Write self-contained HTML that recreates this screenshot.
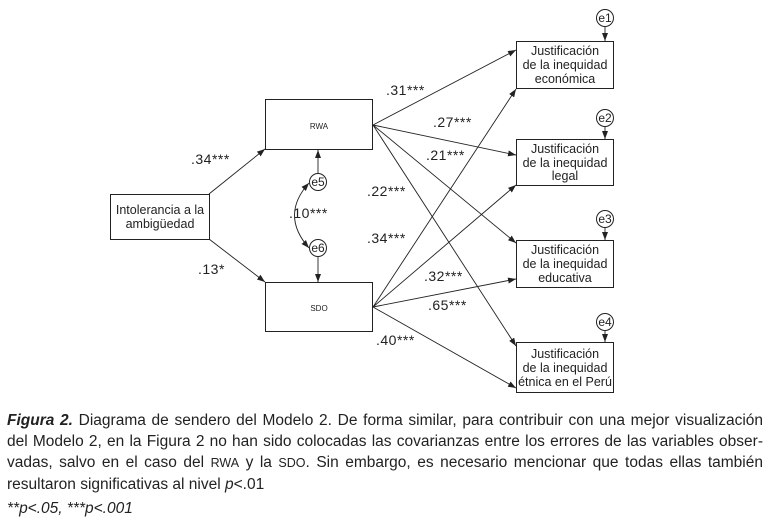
<!DOCTYPE html>
<html><head><meta charset="utf-8"><style>
body{margin:0;width:770px;height:523px;background:#fff;overflow:hidden;font-family:"Liberation Sans",sans-serif;}
svg{position:absolute;left:0;top:0}
.cap{position:absolute;left:7px;top:410px;width:756px;font-family:"Liberation Sans Narrow","Liberation Sans",sans-serif;font-size:15.5px;line-height:21px;color:#222;text-align:justify;}
.cap i{font-style:italic}
.sm{font-size:12.5px}
.p{position:absolute;left:7px;top:500px;font-family:"Liberation Sans Narrow","Liberation Sans",sans-serif;font-size:15.5px;font-style:italic;color:#222}
</style></head><body>
<svg width="770" height="400" viewBox="0 0 770 400">
<defs><marker id="a" markerWidth="8" markerHeight="6" refX="8" refY="3" orient="auto" markerUnits="userSpaceOnUse"><path d="M0,0L8,3L0,6z" fill="#222"/></marker>
<marker id="b" markerWidth="8" markerHeight="6" refX="0" refY="3" orient="auto" markerUnits="userSpaceOnUse"><path d="M8,0L0,3L8,6z" fill="#222"/></marker></defs>
<g fill="none" stroke="#222" stroke-width="1">
<rect x="110.5" y="194.5" width="99" height="45"/>
<rect x="265.5" y="99.5" width="107" height="50"/>
<rect x="265.5" y="282.5" width="107" height="49"/>
<rect x="516.5" y="41.5" width="97" height="47"/>
<rect x="516.5" y="139.5" width="97" height="46"/>
<rect x="516.5" y="240.5" width="97" height="47"/>
<rect x="516.5" y="342.5" width="97" height="50"/>
<circle cx="318" cy="182" r="8.5"/><circle cx="318" cy="248" r="8.5"/>
<circle cx="605" cy="18" r="8.5"/><circle cx="605" cy="118" r="8.5"/><circle cx="605" cy="219" r="8.5"/><circle cx="605" cy="322" r="8.5"/>
</g>
<g stroke="#222" stroke-width="0.9" marker-end="url(#a)">
<line x1="209" y1="194" x2="265" y2="149"/>
<line x1="209" y1="239" x2="265" y2="282"/>
<line x1="318" y1="173" x2="318" y2="150"/>
<line x1="318" y1="257" x2="318" y2="282"/>
<line x1="605" y1="27" x2="605" y2="41"/><line x1="605" y1="127" x2="605" y2="139"/><line x1="605" y1="228" x2="605" y2="240"/><line x1="605" y1="331" x2="605" y2="342"/>
<line x1="373" y1="125" x2="516" y2="50"/>
<line x1="373" y1="125" x2="516" y2="155"/>
<line x1="373" y1="125" x2="516" y2="243"/>
<line x1="373" y1="125" x2="516" y2="346"/>
<line x1="373" y1="307" x2="516" y2="89"/>
<line x1="373" y1="307" x2="516" y2="185"/>
<line x1="373" y1="307" x2="516" y2="279"/>
<line x1="373" y1="307" x2="516" y2="388"/>
</g>
<path d="M309,183 Q280,215 309,248" fill="none" stroke="#222" stroke-width="0.9" marker-end="url(#a)" marker-start="url(#b)"/>
<g font-family="Liberation Sans,sans-serif" fill="#222" text-anchor="middle">
<text x="160" y="214" font-size="12.5">Intolerancia a la</text>
<text x="160" y="228" font-size="12.5">ambigüedad</text>
<text x="319" y="129" font-size="8">RWA</text>
<text x="319" y="311" font-size="8">SDO</text>
<g font-size="12"><text x="318" y="186">e5</text><text x="318" y="252">e6</text>
<text x="605" y="22">e1</text><text x="605" y="122">e2</text><text x="605" y="223">e3</text><text x="605" y="326">e4</text></g>
<g font-size="12.5">
<text x="565" y="55">Justificación</text><text x="565" y="69">de la inequidad</text><text x="565" y="83">económica</text>
<text x="565" y="153">Justificación</text><text x="565" y="167">de la inequidad</text><text x="565" y="180">legal</text>
<text x="565" y="254">Justificación</text><text x="565" y="268">de la inequidad</text><text x="565" y="282">educativa</text>
<text x="565" y="358">Justificación</text><text x="565" y="372">de la inequidad</text><text x="565" y="386">étnica en el Perú</text>
</g>
<g font-size="14" text-anchor="start" letter-spacing="0.5">
<text x="191" y="164">.34***</text><text x="198" y="274">.13*</text><text x="289" y="218">.10***</text>
<text x="386" y="95">.31***</text><text x="433" y="127">.27***</text><text x="426" y="160">.21***</text>
<text x="367" y="196">.22***</text><text x="367" y="243">.34***</text><text x="424" y="281">.32***</text>
<text x="428" y="310">.65***</text><text x="376" y="345">.40***</text>
</g></g>
</svg>
<div class="cap"><i><b>Figura 2.</b></i> Diagrama de sendero del Modelo 2. De forma similar, para contribuir con una mejor visualización del Modelo 2, en la Figura 2 no han sido colocadas las covarianzas entre los errores de las variables obser­vadas, salvo en el caso del <span class="sm">RWA</span> y la <span class="sm">SDO</span>. Sin embargo, es necesario mencionar que todas ellas también resultaron significativas al nivel <i>p</i>&lt;.01</div>
<div class="p">**p&lt;.05, ***p&lt;.001</div>
</body></html>
